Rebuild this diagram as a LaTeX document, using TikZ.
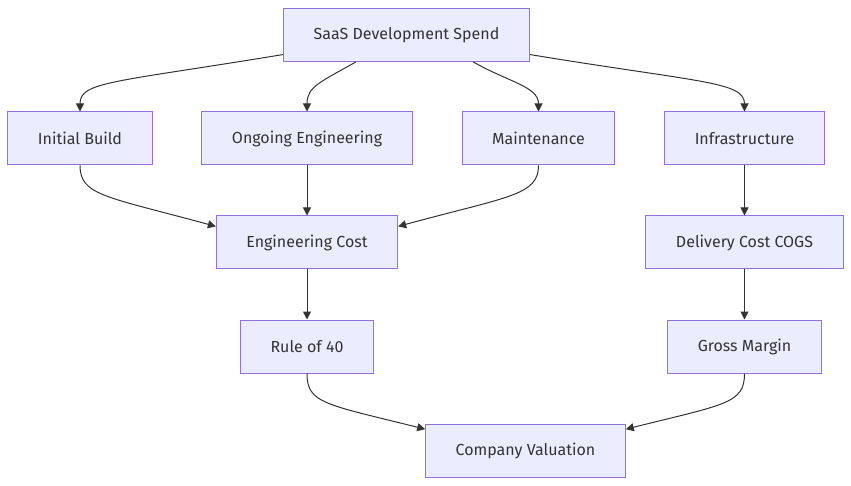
\documentclass[tikz,border=0pt]{standalone}
\usepackage{fontspec}
\setmainfont{Fira Sans}
\usetikzlibrary{arrows.meta}
\definecolor{boxfill}{HTML}{ECECFF}
\definecolor{boxline}{HTML}{9370DB}
\definecolor{ink}{HTML}{333333}
\begin{document}
\begin{tikzpicture}[x=1pt, y=-1pt,
  box/.style={draw=boxline, fill=boxfill, line width=1pt, text=ink,
    minimum height=53pt, inner xsep=30pt, font=\fontsize{16}{19}\selectfont},
  edge/.style={draw=ink, line width=1pt, -{Triangle[length=8pt,width=8pt]}}]
\useasboundingbox (0,0) rectangle (851,486);
% Top spend node
\node[box] (saas) at (406.5,35) {SaaS Development Spend};
% Spend categories
\node[box] (build) at (80,138.5) {Initial Build};
\node[box] (ongoing) at (307,138.5) {Ongoing Engineering};
\node[box] (maint) at (538.5,138.5) {Maintenance};
\node[box] (infra) at (744.5,138.5) {Infrastructure};
% Cost lines
\node[box] (engcost) at (307,242.5) {Engineering Cost};
\node[box] (cogs) at (744.5,242.5) {Delivery Cost COGS};
% Metrics
\node[box] (rule) at (307,346.5) {Rule of 40};
\node[box] (margin) at (744.5,346.5) {Gross Margin};
\node[box] (valuation) at (525.5,450.5) {Company Valuation};
% Spend split into categories
\draw[edge] (saas.189) .. controls +(-170,28) and +(0,-30) .. (build.north);
\draw[edge] (saas.208) .. controls +(-35,20) and +(0,-25) .. (ongoing.north);
\draw[edge] (saas.338) .. controls +(35,20) and +(0,-25) .. (maint.north);
\draw[edge] (saas.351) .. controls +(170,28) and +(0,-30) .. (infra.north);
% Categories into engineering cost
\draw[edge] (build.south) .. controls +(0,30) and +(-110,-30) .. (engcost.170);
\draw[edge] (ongoing) -- (engcost);
\draw[edge] (maint.south) .. controls +(0,30) and +(110,-30) .. (engcost.10);
\draw[edge] (infra) -- (cogs);
% Costs into metrics
\draw[edge] (engcost) -- (rule);
\draw[edge] (cogs) -- (margin);
% Metrics into valuation
\draw[edge] (rule.south) .. controls +(0,30) and +(-100,-25) .. (valuation.168);
\draw[edge] (margin.south) .. controls +(0,30) and +(100,-25) .. (valuation.12);
\end{tikzpicture}
\end{document}
